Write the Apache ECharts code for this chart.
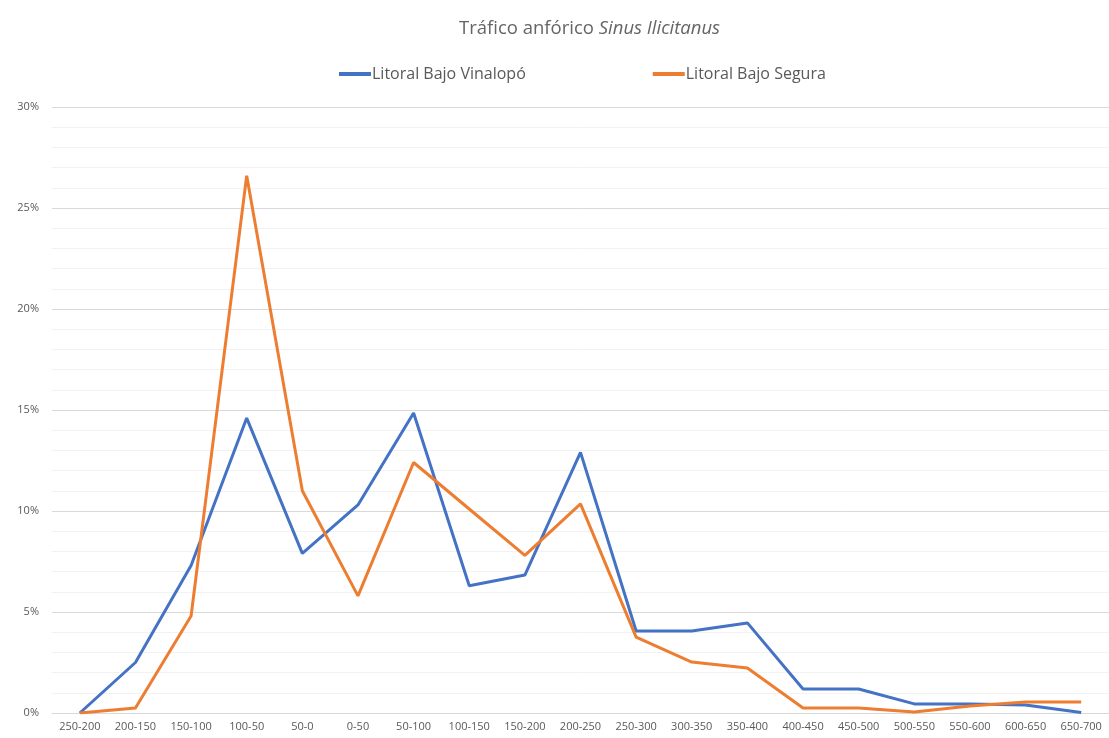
<!DOCTYPE html>
<html>
<head>
<meta charset="utf-8">
<script src="https://cdn.jsdelivr.net/npm/echarts@6/dist/echarts.min.js"></script>
<style>html,body{margin:0;padding:0;background:#fff;}#c{width:1109px;height:738px;}</style>
</head>
<body>
<div id="c"></div>
<script>
const categories = ['250-200','200-150','150-100','100-50','50-0','0-50','50-100','100-150','150-200','200-250','250-300','300-350','350-400','400-450','450-500','500-550','550-600','600-650','650-700'];
const vinalopo = [0, 2.5, 7.3, 14.6, 7.9, 10.3, 14.85, 6.3, 6.83, 12.9, 4.06, 4.06, 4.46, 1.19, 1.19, 0.45, 0.45, 0.4, 0.02];
const segura   = [0, 0.25, 4.8, 26.6, 11.0, 5.8, 12.4, 10.1, 7.8, 10.35, 3.76, 2.52, 2.23, 0.25, 0.25, 0.05, 0.35, 0.55, 0.55];
const seriesNames = ['Litoral Bajo Vinalopó', 'Litoral Bajo Segura'];
const yTicks = [0, 5, 10, 15, 20, 25, 30];

const chart = echarts.init(document.getElementById('c'));
const font = '"Open Sans", Lato, sans-serif';
chart.setOption({
  backgroundColor: '#fff',
  animation: false,
  title: {
    text: '{n|Tráfico anfórico }{i|Sinus Ilicitanus}',
    left: 454,
    top: 14,
    textStyle: {
      rich: {
        n: { fontFamily: font, fontSize: 18.5, color: '#656565', fontWeight: 'normal' },
        i: { fontFamily: font, fontSize: 18.5, color: '#656565', fontStyle: 'italic', fontWeight: 'normal' }
      }
    }
  },
  legend: {
    top: 61,
    left: 334,
    itemGap: 127,
    itemWidth: 32,
    itemHeight: 4,
    icon: 'rect',
    textStyle: { fontFamily: font, fontSize: 16, color: '#595959', padding: [0,0,0,-4] },
    data: seriesNames
  },
  grid: { left: 52, right: 0, top: 107, bottom: 25, containLabel: false },
  xAxis: {
    type: 'category',
    data: categories,
    boundaryGap: true,
    axisLine: { show: true, lineStyle: { color: '#d9d9d9' } },
    axisTick: { show: false },
    axisLabel: { interval: 0, fontFamily: font, fontSize: 11, color: '#595959', margin: 8 }
  },
  yAxis: {
    type: 'value',
    min: 0, max: 30, interval: 5,
    axisLine: { show: false },
    axisTick: { show: false },
    axisLabel: { fontFamily: font, fontSize: 11, color: '#595959', margin: 13,
      formatter: v => yTicks.includes(v) ? v + '%' : '' },
    splitLine: { lineStyle: { color: '#d9d9d9', width: 1 } },
    minorTick: { show: false, splitNumber: 5 },
    minorSplitLine: { show: true, lineStyle: { color: '#f2f2f2', width: 1 } }
  },
  series: [
    { name: seriesNames[0], type: 'line', data: vinalopo, symbol: 'none',
      lineStyle: { color: '#4472C4', width: 3 }, itemStyle: { color: '#4472C4' } },
    { name: seriesNames[1], type: 'line', data: segura, symbol: 'none',
      lineStyle: { color: '#ED7D31', width: 3 }, itemStyle: { color: '#ED7D31' } }
  ]
});
</script>
</body>
</html>
